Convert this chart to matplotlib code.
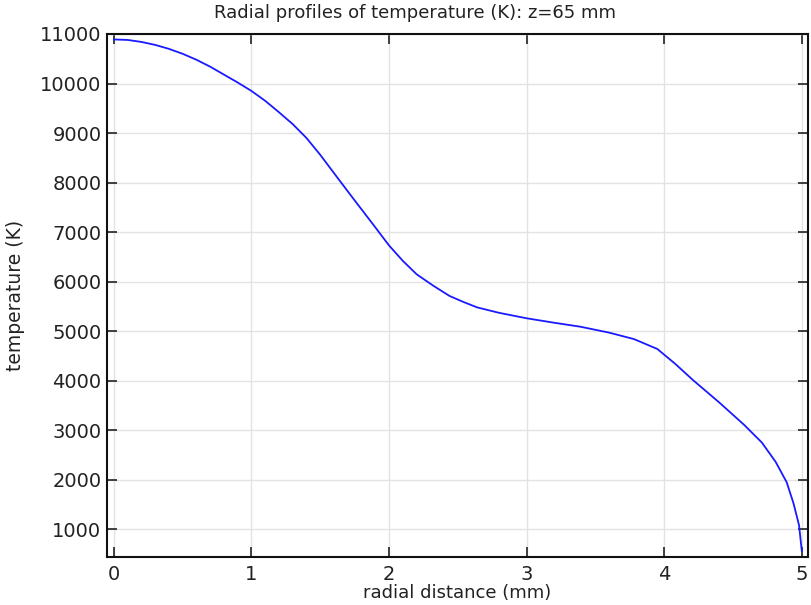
import numpy as np
import matplotlib.pyplot as plt

# radial profile
r_mm = [0, 0.1, 0.2, 0.3, 0.4, 0.5, 0.6, 0.7, 0.8, 0.9, 1.0, 1.1, 1.2, 1.3,
        1.4, 1.5, 1.63, 1.75, 1.88, 2.0, 2.1, 2.2, 2.32, 2.44, 2.54, 2.64,
        2.8, 3.0, 3.2, 3.39, 3.6, 3.78, 3.95, 4.08, 4.21, 4.4, 4.58, 4.71,
        4.81, 4.89, 4.94, 4.98, 5.0]
temp_K = [10890, 10880, 10840, 10780, 10700, 10600, 10480, 10340, 10180,
          10020, 9850, 9650, 9420, 9180, 8900, 8560, 8080, 7640, 7170, 6730,
          6420, 6150, 5920, 5710, 5590, 5480, 5370, 5260, 5170, 5090, 4970,
          4840, 4640, 4340, 4010, 3560, 3110, 2750, 2360, 1950, 1520, 1080,
          560]

x_ticks = [0, 1, 2, 3, 4, 5]
y_ticks = [1000, 2000, 3000, 4000, 5000, 6000, 7000, 8000, 9000, 10000, 11000]

fig = plt.figure(figsize=(8.12, 6.05), dpi=100)
ax = fig.add_axes([107 / 812, 48 / 605, 701 / 812, 523 / 605])

ax.plot(r_mm, temp_K, color='#1a1aff', lw=1.3)

ax.set_xlim(-0.05, 5.045)
ax.set_ylim(440, 11000)
ax.set_xticks(x_ticks)
ax.set_yticks(y_ticks)

ax.grid(True, color='#e3e3e3', lw=1)
ax.set_axisbelow(True)
ax.tick_params(direction='in', length=7, width=1.2, top=True, right=True,
               labelsize=14, colors='#222222')
ax.tick_params(axis='x', pad=6)
ax.tick_params(axis='y', pad=4)
for s in ax.spines.values():
    s.set_linewidth(1.5)
    s.set_color('#111111')

ax.set_xlabel("radial distance (mm)", fontsize=13, labelpad=0, color='#222222')
ax.set_ylabel("temperature (K)", fontsize=13.5, labelpad=11, color='#222222')
fig.text(415 / 812, 1 - 13 / 605, "Radial profiles of temperature (K): z=65 mm",
         fontsize=13, ha='center', va='center', color='#222222')

plt.savefig("out.png", dpi=100)
plt.close()
